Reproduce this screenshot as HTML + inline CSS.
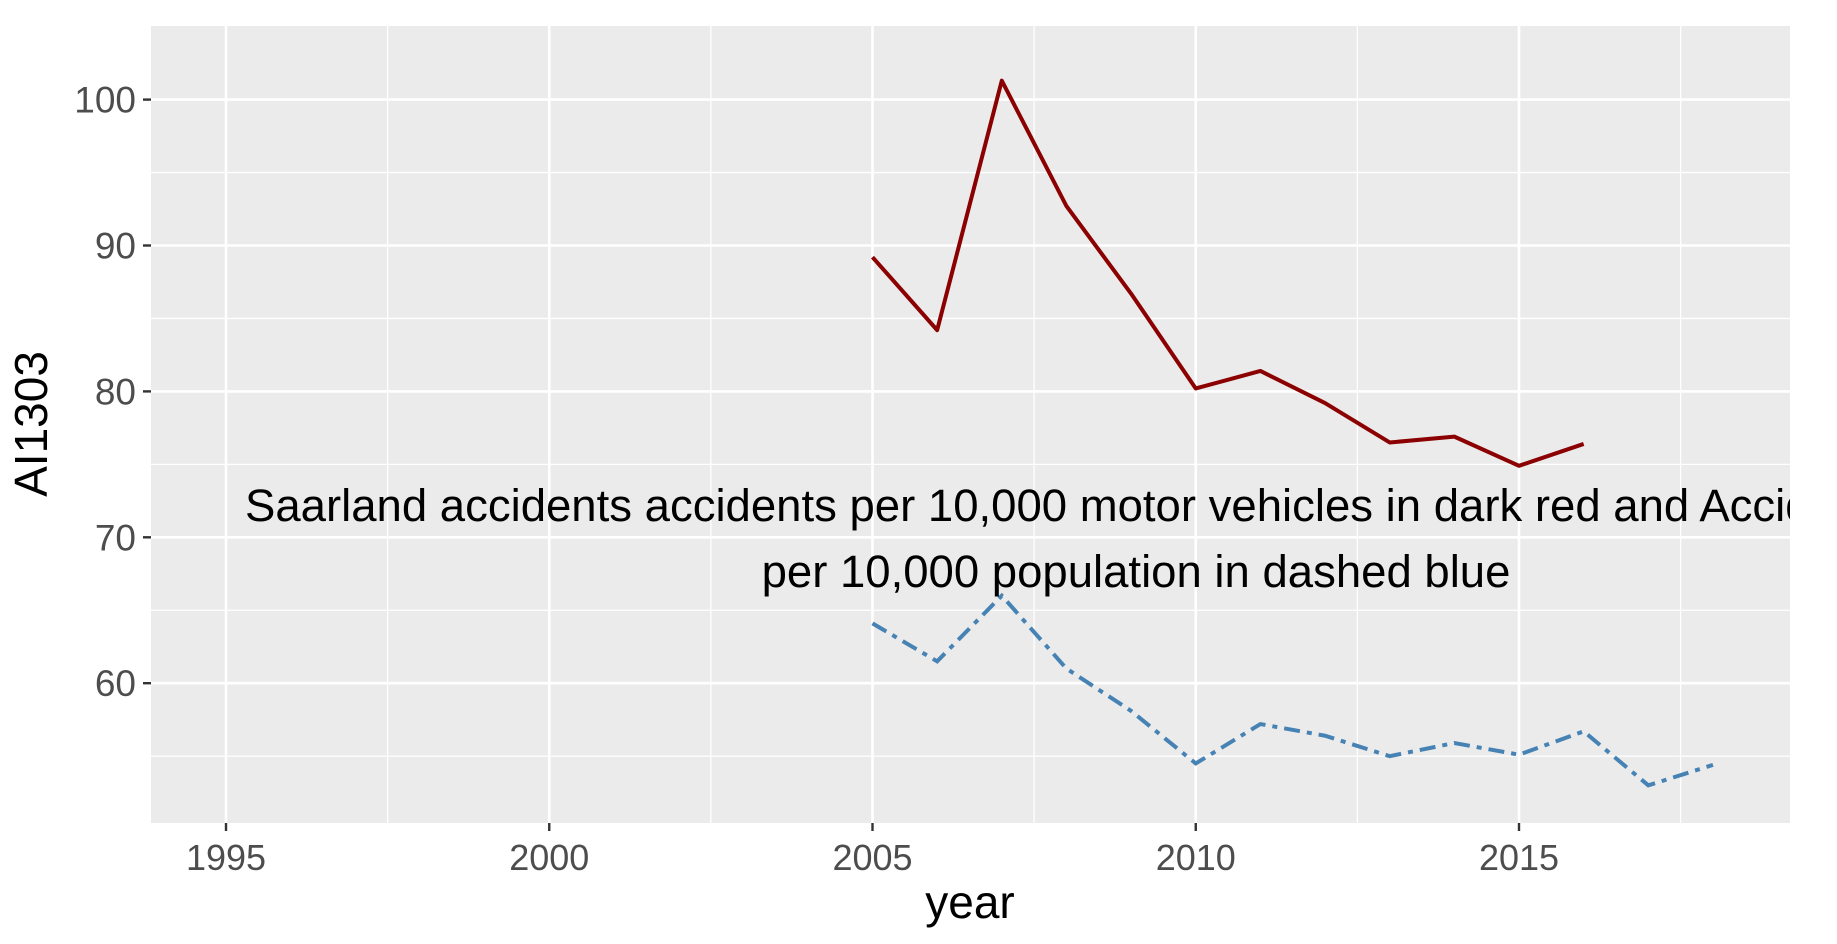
<!DOCTYPE html>
<html><head><meta charset="utf-8"><style>body{margin:0;background:#fff}svg{display:block}text{font-family:"Liberation Sans",sans-serif}</style></head>
<body>
<svg id="chart" width="1837" height="944" xmlns="http://www.w3.org/2000/svg">
<defs><clipPath id="clip"><rect x="151" y="26" width="1639" height="797"/></clipPath></defs>
<rect x="151" y="26" width="1639" height="797" fill="#ebebeb"/>
<g id="grid"></g>
<g id="series" clip-path="url(#clip)"></g>
<g id="axes"></g>
<text x="970" y="918" font-size="46" text-anchor="middle" fill="#000">year</text>
<text transform="translate(47,424) rotate(-90)" font-size="46" text-anchor="middle" fill="#000">AI1303</text>
</svg>
<script>
const years = [2005,2006,2007,2008,2009,2010,2011,2012,2013,2014,2015,2016,2017,2018];
const redValues = [89.2,84.2,101.3,92.7,86.7,80.2,81.4,79.2,76.5,76.9,74.9,76.4];
const blueValues = [64.1,61.5,66.0,61.0,58.1,54.5,57.2,56.4,55.0,55.9,55.1,56.7,53.0,54.4];
const xTicks = [1995,2000,2005,2010,2015];
const yTicks = [60,70,80,90,100];
const annotationLines = ["Saarland accidents accidents per 10,000 motor vehicles in dark red and Accidents","per 10,000 population in dashed blue"];

const NS="http://www.w3.org/2000/svg";
const X=v=>226+(v-1995)*64.65;
const Y=v=>99.6+(100-v)*14.59;
function mk(tag,attrs,parent){const e=document.createElementNS(NS,tag);for(const k in attrs)e.setAttribute(k,attrs[k]);parent.appendChild(e);return e;}
const grid=document.getElementById('grid'),axes=document.getElementById('axes'),series=document.getElementById('series');
xTicks.forEach(t=>{
  const m=t+2.5;const lm=mk('line',{x1:X(m),x2:X(m),y1:26,y2:823,stroke:'#fff','stroke-width':1.3},grid);
  
  
  const l=mk('line',{x1:X(t),x2:X(t),y1:26,y2:823,stroke:'#fff','stroke-width':2.6},grid);
  
  
  mk('line',{x1:X(t),x2:X(t),y1:823,y2:831,stroke:'#333','stroke-width':2.4},axes);
  const tx=mk('text',{x:X(t),y:870,'font-size':36,'text-anchor':'middle',fill:'#4d4d4d'},axes);tx.textContent=t;
  
  
});
yTicks.forEach(t=>{
  const m=t-5;const lm=mk('line',{x1:151,x2:1790,y1:Y(m),y2:Y(m),stroke:'#fff','stroke-width':1.3},grid);
  
  
  const l=mk('line',{x1:151,x2:1790,y1:Y(t),y2:Y(t),stroke:'#fff','stroke-width':2.6},grid);
  
  
  mk('line',{x1:143,x2:151,y1:Y(t),y2:Y(t),stroke:'#333','stroke-width':2.4},axes);
  const tx=mk('text',{x:136,y:Y(t)+13,'font-size':37,'text-anchor':'end',fill:'#4d4d4d'},axes);tx.textContent=t;
  
  
});
const red=mk('polyline',{points:redValues.map((v,i)=>X(years[i])+','+Y(v)).join(' '),fill:'none',stroke:'#8b0000','stroke-width':4,'stroke-linejoin':'round'},series);


const blue=mk('polyline',{points:blueValues.map((v,i)=>X(years[i])+','+Y(v)).join(' '),fill:'none',stroke:'#4682b4','stroke-width':4,'stroke-dasharray':'16 7 5 7'},series);


const a1=mk('text',{x:245,y:521,'font-size':45.5,fill:'#000'},series);a1.textContent=annotationLines[0];


const a2=mk('text',{x:1136,y:587,'font-size':45.5,'text-anchor':'middle',fill:'#000'},series);a2.textContent=annotationLines[1];


</script>
</body></html>
